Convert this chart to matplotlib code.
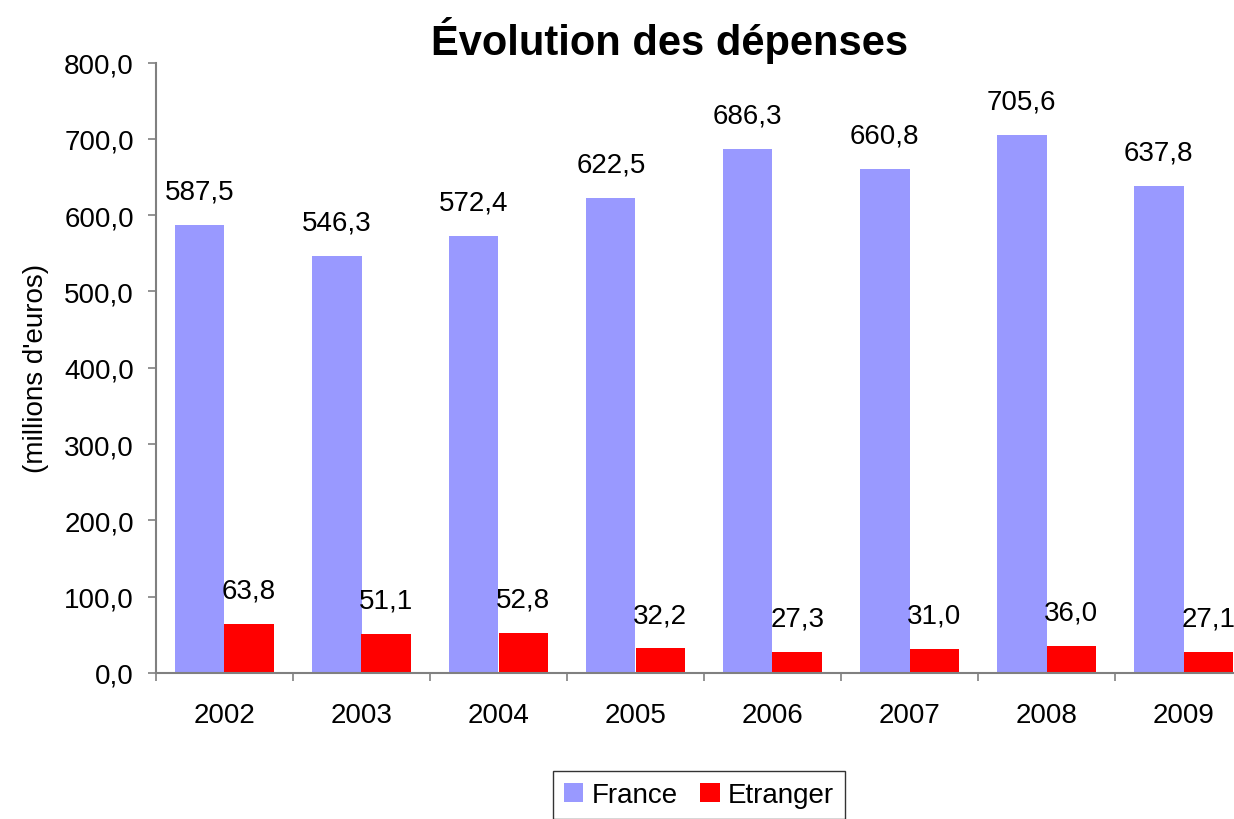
import numpy as np
import matplotlib
matplotlib.use('Agg')
import matplotlib.pyplot as plt
from matplotlib.ticker import FixedLocator, FuncFormatter

plt.rcParams['font.family'] = ['Liberation Sans', 'DejaVu Sans']

annees = ['2002', '2003', '2004', '2005', '2006', '2007', '2008', '2009']
france = [587.5, 546.3, 572.4, 622.5, 686.3, 660.8, 705.6, 637.8]
etranger = [63.8, 51.1, 52.8, 32.2, 27.3, 31.0, 36.0, 27.1]

def fr(v):
    return f'{v:.1f}'.replace('.', ',')

fig = plt.figure(figsize=(12.34, 8.2), dpi=100)
ax = fig.add_axes([156 / 1234, 146 / 820, 1096 / 1234, 610.5 / 820])

x = np.arange(len(annees))
w = 0.36
b1 = ax.bar(x - w / 2, france, w, color='#9999FF', label='France')
b2 = ax.bar(x + w / 2, etranger, w, color='#FF0000', label='Etranger')

# étiquettes de valeurs au-dessus des barres
for bars, vals in [(b1, france), (b2, etranger)]:
    for r, v in zip(bars, vals):
        ax.annotate(fr(v), (r.get_x() + r.get_width() / 2, v),
                    xytext=(0, 19), textcoords='offset points',
                    ha='center', va='baseline', fontsize=20)

ax.set_xlim(-0.5, len(annees) - 0.5)
ax.set_ylim(0, 800)
ax.set_yticks(np.arange(0, 801, 100))
ax.yaxis.set_major_formatter(FuncFormatter(lambda v, p: fr(v)))
ax.set_xticks(x)
ax.set_xticklabels(annees)
ax.xaxis.set_minor_locator(FixedLocator(np.arange(-0.5, len(annees), 1)))

ax.tick_params(axis='y', labelsize=20, length=6, width=1.2, color='#808080', pad=10)
ax.tick_params(axis='x', which='major', labelsize=20, length=0, pad=21)
ax.tick_params(axis='x', which='minor', length=6, width=1.2, color='#808080')

for s in ['top', 'right']:
    ax.spines[s].set_visible(False)
for s in ['left', 'bottom']:
    ax.spines[s].set_color('#808080')
    ax.spines[s].set_linewidth(1.5)

ax.set_ylabel("(millions d'euros)", fontsize=20, labelpad=11)
fig.text(670 / 1234, 1 - 40 / 820, 'Évolution des dépenses', ha='center', va='center',
         fontsize=30, fontweight='bold')

leg = fig.legend(loc='center', bbox_to_anchor=(699 / 1234, 24 / 820), ncol=2,
                 fontsize=20, frameon=True, fancybox=False, edgecolor='black',
                 handlelength=0.7, handleheight=0.7, handletextpad=0.3,
                 columnspacing=0.8, borderpad=0.4)
leg.get_frame().set_linewidth(1.0)

fig.savefig('out.png', dpi=100)
